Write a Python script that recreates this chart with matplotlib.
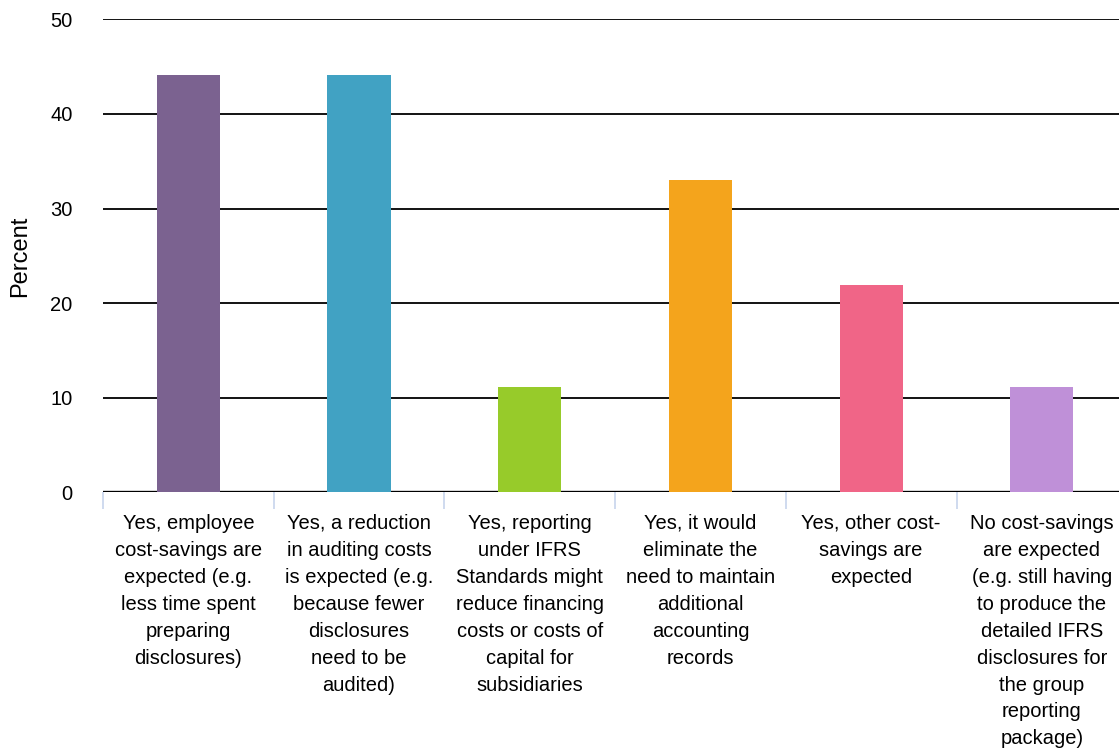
import matplotlib
matplotlib.use("Agg")
import matplotlib.pyplot as plt

categories = [
    "Yes, employee\ncost-savings are\nexpected (e.g.\nless time spent\npreparing\ndisclosures)",
    "Yes, a reduction\nin auditing costs\nis expected (e.g.\nbecause fewer\ndisclosures\nneed to be\naudited)",
    "Yes, reporting\nunder IFRS\nStandards might\nreduce financing\ncosts or costs of\ncapital for\nsubsidiaries",
    "Yes, it would\neliminate the\nneed to maintain\nadditional\naccounting\nrecords",
    "Yes, other cost-\nsavings are\nexpected",
    "No cost-savings\nare expected\n(e.g. still having\nto produce the\ndetailed IFRS\ndisclosures for\nthe group\nreporting\npackage)",
]
values = [44.1, 44.1, 11.1, 33.0, 21.9, 11.1]
colors = ["#7B6290", "#41A2C3", "#97CB2A", "#F4A41C", "#F06587", "#BF90D8"]
yticks = [0, 10, 20, 30, 40, 50]
ylabel = "Percent"

plt.rcParams['font.family'] = ['Liberation Sans', 'DejaVu Sans']

W, H = 1119, 751
fig = plt.figure(figsize=(W / 100, H / 100), dpi=100)
left, right = 103, 1119
bottom, top = 492.3, 19.3
ax = fig.add_axes([left / W, (H - bottom) / H, (right - left) / W, (bottom - top) / H])

step = 170.7
x = list(range(len(categories)))
ax.bar(x, values, width=0.37, color=colors, zorder=3)

ax.set_xlim(-0.5, -0.5 + (right - left) / step)
ax.set_ylim(0, 50)
ax.set_yticks(yticks)
ax.set_yticklabels([str(v) for v in yticks], fontsize=14.5)
ax.tick_params(axis='y', length=0, pad=21.8)

for v in yticks[1:]:
    ax.axhline(v, color='black', lw=1.3, zorder=2)
ax.axhline(0, color='black', lw=2.4, zorder=2)

ax.set_xticks(x)
ax.set_xticklabels(categories, fontsize=14.5, linespacing=1.53, va='top')
ax.tick_params(axis='x', which='major', length=0, pad=15.5)
ax.set_xticks([i - 0.5 for i in range(len(categories))], minor=True)
ax.tick_params(axis='x', which='minor', length=12, width=1.3, color='#CCD8EE')

for s in ax.spines.values():
    s.set_visible(False)

fig.text(20 / W, (H - 256) / H, ylabel, rotation=90, fontsize=17, ha='center', va='center')

fig.savefig("out.png", dpi=100)
